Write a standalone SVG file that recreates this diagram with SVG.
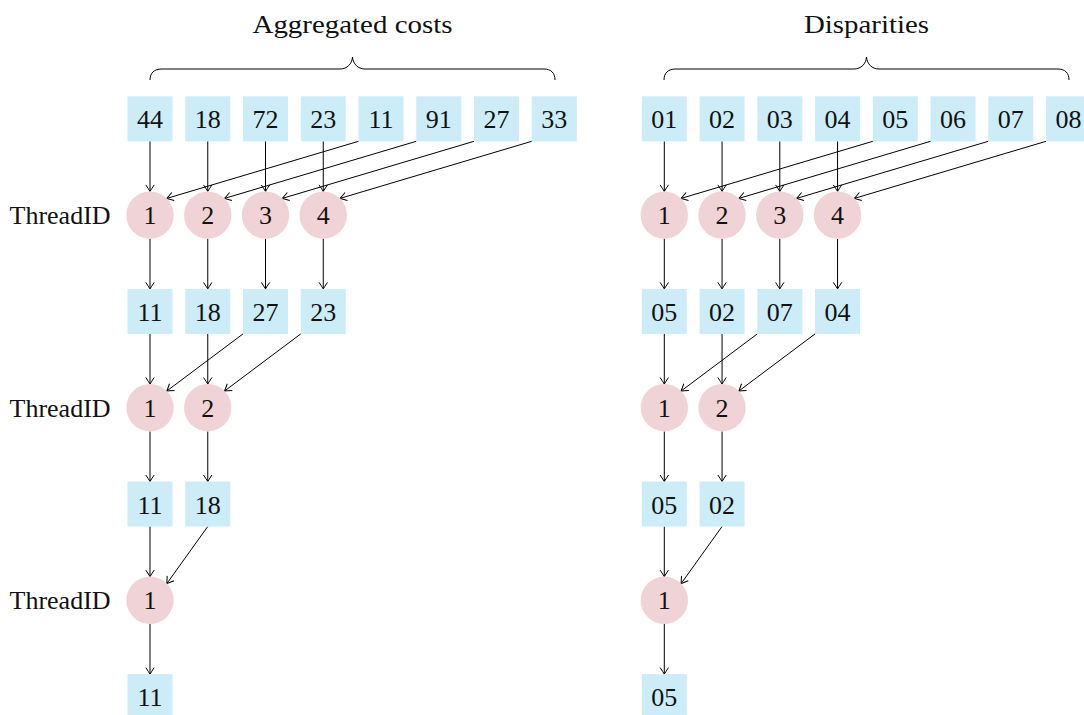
<svg xmlns="http://www.w3.org/2000/svg" width="1084" height="715" viewBox="0 0 1084 715">
<style>
text{font-family:"Liberation Serif","Times New Roman",serif;font-size:26px;fill:#111}
.b rect{fill:#ccedf8}
.c circle{fill:#f0d3d6}
.n{text-anchor:middle}
.lbl{text-anchor:end}
#edges line{stroke:#000;stroke-width:1;marker-end:url(#ah)}
.brace{fill:none;stroke:#000;stroke-width:1}
</style>
<defs>
<marker id="ah" markerUnits="userSpaceOnUse" markerWidth="12" markerHeight="12" viewBox="-8 -6 10 12" refX="0" refY="0" orient="auto">
<path d="M-6.5,-4.2 Q-2,-1.2 0,0 Q-2,1.2 -6.5,4.2" fill="none" stroke="#000" stroke-width="1"/>
</marker>
</defs>
<rect width="1084" height="715" fill="#fff"/>

<text x="352.5" y="33" class="n" textLength="200" lengthAdjust="spacingAndGlyphs">Aggregated costs</text>
<text x="866.5" y="33" class="n" textLength="125" lengthAdjust="spacingAndGlyphs">Disparities</text>
<path class="brace" d="M150,80 C150,73 154,69 162,69 L340,69 C347,69 352,64 352.5,57 C353,64 358,69 365,69 L544,69 C551,69 555,73 555,80"/>
<path class="brace" d="M664,80 C664,73 668,69 676,69 L854,69 C861,69 866,64 866.5,57 C867,64 872,69 879,69 L1058,69 C1065,69 1069,73 1069,80"/>

<text x="110.6" y="224" class="lbl">ThreadID</text>
<text x="110.6" y="416.6" class="lbl">ThreadID</text>
<text x="110.6" y="609.2" class="lbl">ThreadID</text>

<g id="edges">
<!-- left level 1 -->
<line x1="150" y1="141.3" x2="150" y2="191.4"/>
<line x1="207.75" y1="141.3" x2="207.75" y2="191.4"/>
<line x1="265.5" y1="141.3" x2="265.5" y2="191.4"/>
<line x1="323.25" y1="141.3" x2="323.25" y2="191.4"/>
<line x1="358.5" y1="141.3" x2="166.8" y2="198.4"/>
<line x1="416.25" y1="141.3" x2="224.55" y2="198.4"/>
<line x1="474" y1="141.3" x2="282.3" y2="198.4"/>
<line x1="531.75" y1="141.3" x2="340.05" y2="198.4"/>
<line x1="150" y1="238.8" x2="150" y2="288.9"/>
<line x1="207.75" y1="238.8" x2="207.75" y2="288.9"/>
<line x1="265.5" y1="238.8" x2="265.5" y2="288.9"/>
<line x1="323.25" y1="238.8" x2="323.25" y2="288.9"/>
<!-- left level 2 -->
<line x1="150" y1="333.9" x2="150" y2="384"/>
<line x1="207.75" y1="333.9" x2="207.75" y2="384"/>
<line x1="243" y1="333.9" x2="166.8" y2="391"/>
<line x1="300.75" y1="333.9" x2="224.55" y2="391"/>
<line x1="150" y1="431.4" x2="150" y2="481.5"/>
<line x1="207.75" y1="431.4" x2="207.75" y2="481.5"/>
<!-- left level 3 -->
<line x1="150" y1="526.5" x2="150" y2="576.6"/>
<line x1="207.75" y1="526.5" x2="166.8" y2="583.6"/>
<line x1="150" y1="624" x2="150" y2="674.1"/>
<!-- right level 1 -->
<line x1="664.3" y1="141.3" x2="664.3" y2="191.4"/>
<line x1="722.05" y1="141.3" x2="722.05" y2="191.4"/>
<line x1="779.8" y1="141.3" x2="779.8" y2="191.4"/>
<line x1="837.55" y1="141.3" x2="837.55" y2="191.4"/>
<line x1="872.8" y1="141.3" x2="681.1" y2="198.4"/>
<line x1="930.55" y1="141.3" x2="738.85" y2="198.4"/>
<line x1="988.3" y1="141.3" x2="796.6" y2="198.4"/>
<line x1="1046.05" y1="141.3" x2="854.35" y2="198.4"/>
<line x1="664.3" y1="238.8" x2="664.3" y2="288.9"/>
<line x1="722.05" y1="238.8" x2="722.05" y2="288.9"/>
<line x1="779.8" y1="238.8" x2="779.8" y2="288.9"/>
<line x1="837.55" y1="238.8" x2="837.55" y2="288.9"/>
<!-- right level 2 -->
<line x1="664.3" y1="333.9" x2="664.3" y2="384"/>
<line x1="722.05" y1="333.9" x2="722.05" y2="384"/>
<line x1="757.3" y1="333.9" x2="681.1" y2="391"/>
<line x1="815.05" y1="333.9" x2="738.85" y2="391"/>
<line x1="664.3" y1="431.4" x2="664.3" y2="481.5"/>
<line x1="722.05" y1="431.4" x2="722.05" y2="481.5"/>
<!-- right level 3 -->
<line x1="664.3" y1="526.5" x2="664.3" y2="576.6"/>
<line x1="722.05" y1="526.5" x2="681.1" y2="583.6"/>
<line x1="664.3" y1="624" x2="664.3" y2="674.1"/>
</g>

<!-- left boxes row 0 -->
<g id="L0a" class="b"><rect x="127.5" y="96.3" width="45" height="45"/><text x="150" y="128.3" class="n">44</text></g>
<g id="L0b" class="b"><rect x="185.25" y="96.3" width="45" height="45"/><text x="207.75" y="128.3" class="n">18</text></g>
<g id="L0c" class="b"><rect x="243" y="96.3" width="45" height="45"/><text x="265.5" y="128.3" class="n">72</text></g>
<g id="L0d" class="b"><rect x="300.75" y="96.3" width="45" height="45"/><text x="323.25" y="128.3" class="n">23</text></g>
<g id="L0e" class="b"><rect x="358.5" y="96.3" width="45" height="45"/><text x="381" y="128.3" class="n">11</text></g>
<g id="L0f" class="b"><rect x="416.25" y="96.3" width="45" height="45"/><text x="438.75" y="128.3" class="n">91</text></g>
<g id="L0g" class="b"><rect x="474" y="96.3" width="45" height="45"/><text x="496.5" y="128.3" class="n">27</text></g>
<g id="L0h" class="b"><rect x="531.75" y="96.3" width="45" height="45"/><text x="554.25" y="128.3" class="n">33</text></g>
<!-- left circles row 1 -->
<g id="LT1a" class="c"><circle cx="150" cy="215.1" r="23.7"/><text x="150" y="224.1" class="n">1</text></g>
<g id="LT1b" class="c"><circle cx="207.75" cy="215.1" r="23.7"/><text x="207.75" y="224.1" class="n">2</text></g>
<g id="LT1c" class="c"><circle cx="265.5" cy="215.1" r="23.7"/><text x="265.5" y="224.1" class="n">3</text></g>
<g id="LT1d" class="c"><circle cx="323.25" cy="215.1" r="23.7"/><text x="323.25" y="224.1" class="n">4</text></g>
<!-- left boxes row 2 -->
<g id="L2a" class="b"><rect x="127.5" y="288.9" width="45" height="45"/><text x="150" y="320.9" class="n">11</text></g>
<g id="L2b" class="b"><rect x="185.25" y="288.9" width="45" height="45"/><text x="207.75" y="320.9" class="n">18</text></g>
<g id="L2c" class="b"><rect x="243" y="288.9" width="45" height="45"/><text x="265.5" y="320.9" class="n">27</text></g>
<g id="L2d" class="b"><rect x="300.75" y="288.9" width="45" height="45"/><text x="323.25" y="320.9" class="n">23</text></g>
<!-- left circles row 3 -->
<g id="LT3a" class="c"><circle cx="150" cy="407.7" r="23.7"/><text x="150" y="416.7" class="n">1</text></g>
<g id="LT3b" class="c"><circle cx="207.75" cy="407.7" r="23.7"/><text x="207.75" y="416.7" class="n">2</text></g>
<!-- left boxes row 4 -->
<g id="L4a" class="b"><rect x="127.5" y="481.5" width="45" height="45"/><text x="150" y="513.5" class="n">11</text></g>
<g id="L4b" class="b"><rect x="185.25" y="481.5" width="45" height="45"/><text x="207.75" y="513.5" class="n">18</text></g>
<!-- left circle row 5 -->
<g id="LT5a" class="c"><circle cx="150" cy="600.3" r="23.7"/><text x="150" y="609.3" class="n">1</text></g>
<!-- left box row 6 -->
<g id="L6a" class="b"><rect x="127.5" y="674.1" width="45" height="45"/><text x="150" y="706.1" class="n">11</text></g>

<!-- right boxes row 0 -->
<g id="R0a" class="b"><rect x="641.8" y="96.3" width="45" height="45"/><text x="664.3" y="128.3" class="n">01</text></g>
<g id="R0b" class="b"><rect x="699.55" y="96.3" width="45" height="45"/><text x="722.05" y="128.3" class="n">02</text></g>
<g id="R0c" class="b"><rect x="757.3" y="96.3" width="45" height="45"/><text x="779.8" y="128.3" class="n">03</text></g>
<g id="R0d" class="b"><rect x="815.05" y="96.3" width="45" height="45"/><text x="837.55" y="128.3" class="n">04</text></g>
<g id="R0e" class="b"><rect x="872.8" y="96.3" width="45" height="45"/><text x="895.3" y="128.3" class="n">05</text></g>
<g id="R0f" class="b"><rect x="930.55" y="96.3" width="45" height="45"/><text x="953.05" y="128.3" class="n">06</text></g>
<g id="R0g" class="b"><rect x="988.3" y="96.3" width="45" height="45"/><text x="1010.8" y="128.3" class="n">07</text></g>
<g id="R0h" class="b"><rect x="1046.05" y="96.3" width="45" height="45"/><text x="1068.55" y="128.3" class="n">08</text></g>
<!-- right circles row 1 -->
<g id="RT1a" class="c"><circle cx="664.3" cy="215.1" r="23.7"/><text x="664.3" y="224.1" class="n">1</text></g>
<g id="RT1b" class="c"><circle cx="722.05" cy="215.1" r="23.7"/><text x="722.05" y="224.1" class="n">2</text></g>
<g id="RT1c" class="c"><circle cx="779.8" cy="215.1" r="23.7"/><text x="779.8" y="224.1" class="n">3</text></g>
<g id="RT1d" class="c"><circle cx="837.55" cy="215.1" r="23.7"/><text x="837.55" y="224.1" class="n">4</text></g>
<!-- right boxes row 2 -->
<g id="R2a" class="b"><rect x="641.8" y="288.9" width="45" height="45"/><text x="664.3" y="320.9" class="n">05</text></g>
<g id="R2b" class="b"><rect x="699.55" y="288.9" width="45" height="45"/><text x="722.05" y="320.9" class="n">02</text></g>
<g id="R2c" class="b"><rect x="757.3" y="288.9" width="45" height="45"/><text x="779.8" y="320.9" class="n">07</text></g>
<g id="R2d" class="b"><rect x="815.05" y="288.9" width="45" height="45"/><text x="837.55" y="320.9" class="n">04</text></g>
<!-- right circles row 3 -->
<g id="RT3a" class="c"><circle cx="664.3" cy="407.7" r="23.7"/><text x="664.3" y="416.7" class="n">1</text></g>
<g id="RT3b" class="c"><circle cx="722.05" cy="407.7" r="23.7"/><text x="722.05" y="416.7" class="n">2</text></g>
<!-- right boxes row 4 -->
<g id="R4a" class="b"><rect x="641.8" y="481.5" width="45" height="45"/><text x="664.3" y="513.5" class="n">05</text></g>
<g id="R4b" class="b"><rect x="699.55" y="481.5" width="45" height="45"/><text x="722.05" y="513.5" class="n">02</text></g>
<!-- right circle row 5 -->
<g id="RT5a" class="c"><circle cx="664.3" cy="600.3" r="23.7"/><text x="664.3" y="609.3" class="n">1</text></g>
<!-- right box row 6 -->
<g id="R6a" class="b"><rect x="641.8" y="674.1" width="45" height="45"/><text x="664.3" y="706.1" class="n">05</text></g>
</svg>
